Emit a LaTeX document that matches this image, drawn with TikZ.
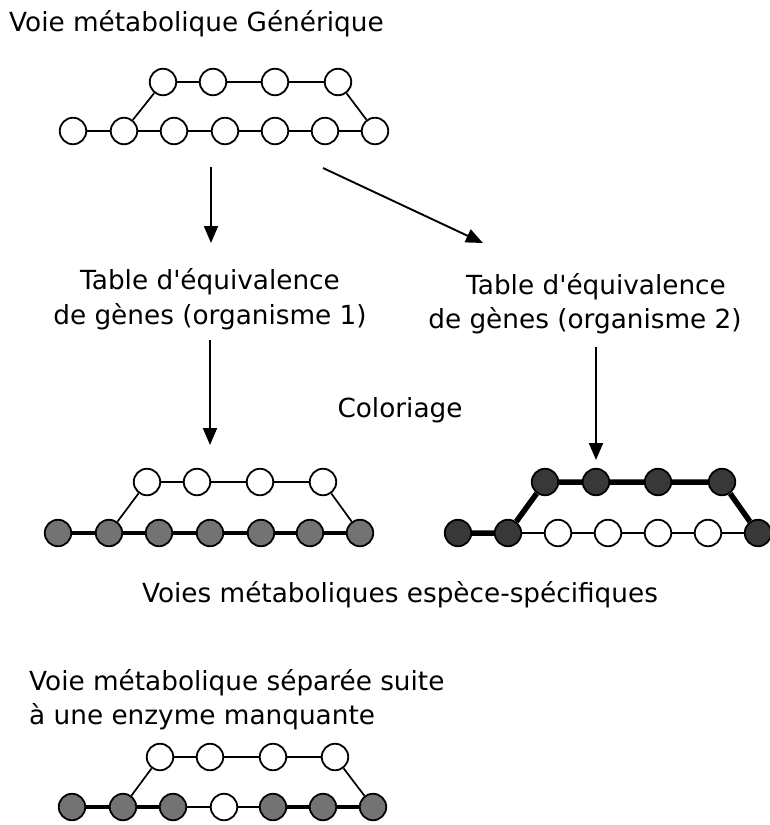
\documentclass[tikz,border=0pt]{standalone}
\usepackage{fontspec}
\setmainfont{DejaVu Sans}[Ligatures=TeXOff]
\usetikzlibrary{arrows.meta}
\begin{document}
\begin{tikzpicture}[x=1pt,y=-1pt,
  metab/.style={circle,draw,line width=1.8pt,minimum size=26.5pt,inner sep=0pt,fill=white},
  lit/.style={metab,fill=black!55},
  dark/.style={metab,fill=black!78},
  thinlink/.style={line width=1.7pt},
  boldlink/.style={line width=4.5pt},
  flow/.style={line width=1.9pt,-{Triangle[length=17pt,width=14pt]}},
  lbl/.style={font=\fontsize{26.3}{31}\selectfont,inner sep=0pt}
]
\useasboundingbox (0,0) rectangle (769,825);

% ---------- generic pathway ----------
\node[lbl,anchor=base west] (title) at (9,31) {Voie métabolique Générique};
\foreach \x [count=\i] in {163,213,275,338} \node[metab] (ga\i) at (\x,82) {};
\foreach \x [count=\i] in {73,124,174,225,275,325,375} \node[metab] (gb\i) at (\x,131) {};
\draw[thinlink] (gb1)--(gb2)--(gb3)--(gb4)--(gb5)--(gb6)--(gb7);
\draw[thinlink] (gb2)--(ga1)--(ga2)--(ga3)--(ga4)--(gb7);

% ---------- arrows to the equivalence tables ----------
\coordinate (a1s) at (211,167); \coordinate (a1e) at (211,243);
\coordinate (a2s) at (323,168); \coordinate (a2e) at (483,243);
\draw[flow] (a1s) -- (a1e);
\draw[flow] (a2s) -- (a2e);

\node[lbl,anchor=base] (t1a) at (210,289) {Table d'équivalence};
\node[lbl,anchor=base] (t1b) at (210,324) {de gènes (organisme 1)};
\node[lbl,anchor=base] (t2a) at (596,294) {Table d'équivalence};
\node[lbl,anchor=base] (t2b) at (585,328) {de gènes (organisme 2)};

\node[lbl,anchor=base] (col) at (400,417) {Coloriage};

\coordinate (a3s) at (210,340); \coordinate (a3e) at (210,445);
\coordinate (a4s) at (596,347); \coordinate (a4e) at (596,460);
\draw[flow] (a3s) -- (a3e);
\draw[flow] (a4s) -- (a4e);

% ---------- organism 1 ----------
\foreach \x [count=\i] in {147,197,260,323} \node[metab] (la\i) at (\x,482) {};
\foreach \x [count=\i] in {58,109,159,210,261,310,360} \node[lit] (lb\i) at (\x,533) {};
\draw[boldlink] (lb1)--(lb2)--(lb3)--(lb4)--(lb5)--(lb6)--(lb7);
\draw[thinlink] (lb2)--(la1)--(la2)--(la3)--(la4)--(lb7);

% ---------- organism 2 ----------
\foreach \x [count=\i] in {545,596,658,722} \node[dark] (ra\i) at (\x,482) {};
\foreach \x [count=\i] in {458,508} \node[dark] (rb\i) at (\x,533) {};
\foreach \x [count=\i] in {558,608,658,708} \node[metab] (rc\i) at (\x,533) {};
\node[dark] (rb7) at (758,533) {};
\draw[thinlink] (rb2)--(rc1)--(rc2)--(rc3)--(rc4)--(rb7);
\draw[boldlink,line width=5.5pt] (rb1)--(rb2)--(ra1)--(ra2)--(ra3)--(ra4)--(rb7);

\node[lbl,anchor=base] (spec) at (400,602) {Voies métaboliques espèce-spécifiques};

% ---------- split pathway ----------
\node[lbl,anchor=base west] (s1) at (29,690) {Voie métabolique séparée suite};
\node[lbl,anchor=base west] (s2) at (29,724) {à une enzyme manquante};
\foreach \x [count=\i] in {160,210,273,335} \node[metab] (sa\i) at (\x,757) {};
\foreach \x [count=\i] in {72,123,173} \node[lit] (sb\i) at (\x,807) {};
\node[metab] (sb4) at (224,807) {};
\foreach \x [count=\i from 5] in {273,323,373} \node[lit] (sb\i) at (\x,807) {};
\draw[boldlink] (sb1)--(sb2)--(sb3);
\draw[boldlink] (sb5)--(sb6)--(sb7);
\draw[thinlink] (sb3)--(sb4)--(sb5);
\draw[thinlink] (sb2)--(sa1)--(sa2)--(sa3)--(sa4)--(sb7);
\end{tikzpicture}
\end{document}
